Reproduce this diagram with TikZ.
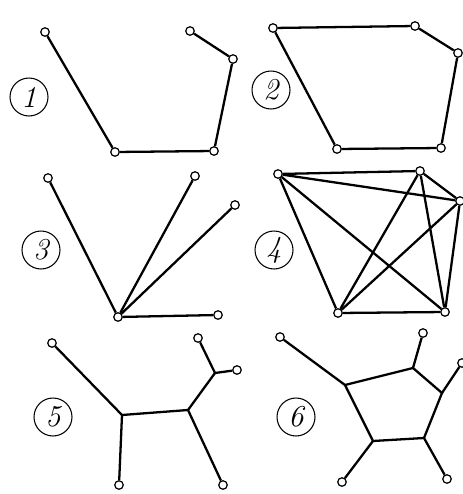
\documentclass[tikz,border=0pt]{standalone}
\usetikzlibrary{shapes.geometric}
\begin{document}
\begin{tikzpicture}[x=0.02cm,y=-0.02cm]
\tikzstyle{vtx}=[draw,circle,fill=white,minimum size=0.17cm,inner sep=0pt,line width=0.7pt]
\tikzstyle{num}=[draw,circle,minimum size=0.76cm,inner sep=0pt,line width=0.6pt,font=\LARGE\itshape]
\tikzstyle{edge}=[line width=1.3pt]
\useasboundingbox (0,0) rectangle (463,494);

% Graph 1: open path
\node[num] (n1) at (29,97) {1};
\foreach \i/\x/\y in {a/45/32,b/115/152,c/214/151,d/233/59,e/190/31}
  \node[vtx] (p\i) at (\x,\y) {};
\draw[edge] (pa) -- (pb) -- (pc) -- (pd) -- (pe);

% Graph 2: cycle
\node[num] (n2) at (271,90) {2};
\foreach \i/\x/\y in {a/273/28,b/415/26,c/458/53,d/441/148,e/337/149}
  \node[vtx] (c\i) at (\x,\y) {};
\draw[edge] (ca) -- (cb) -- (cc) -- (cd) -- (ce) -- (ca);

% Graph 3: star
\node[num] (n3) at (41,250) {3};
\foreach \i/\x/\y in {o/118/317,a/48/178,b/195/176,c/235/205,d/218/315}
  \node[vtx] (s\i) at (\x,\y) {};
\foreach \i in {a,b,c,d}
  \draw[edge] (so) -- (s\i);

% Graph 4: complete graph
\node[num] (n4) at (274,250) {4};
\foreach \i/\x/\y in {a/278/174,b/420/171,c/460/201,d/445/312,e/338/313}
  \node[vtx] (k\i) at (\x,\y) {};
\foreach \u/\v in {a/b,a/c,a/d,a/e,b/c,b/d,b/e,c/d,c/e,d/e}
  \draw[edge] (k\u) -- (k\v);

% Graph 5: tree
\node[num] (n5) at (53,417) {5};
\foreach \i/\x/\y in {a/52/343,b/119/485,c/223/485,d/198/338,e/237/370}
  \node[vtx] (t\i) at (\x,\y) {};
\coordinate (tp) at (122,415);
\coordinate (tq) at (188,410);
\coordinate (tr) at (215,373);
\draw[edge] (ta) -- (tp) -- (tq) -- (tr) -- (td);
\draw[edge] (tp) -- (tb);
\draw[edge] (tq) -- (tc);
\draw[edge] (tr) -- (te);

% Graph 6: pentagon with pendant vertices
\node[num] (n6) at (296,417) {6};
\foreach \i/\x/\y in {1/345/385,2/413/368,3/442/393,4/424/438,5/373/441}
  \coordinate (q\i) at (\x,\y);
\foreach \i/\x/\y in {1/280/337,2/423/333,3/462/363,4/447/479,5/342/482}
  \node[vtx] (l\i) at (\x,\y) {};
\draw[edge] (q1) -- (q2) -- (q3) -- (q4) -- (q5) -- cycle;
\foreach \i in {1,...,5}
  \draw[edge] (q\i) -- (l\i);
\end{tikzpicture}
\end{document}
